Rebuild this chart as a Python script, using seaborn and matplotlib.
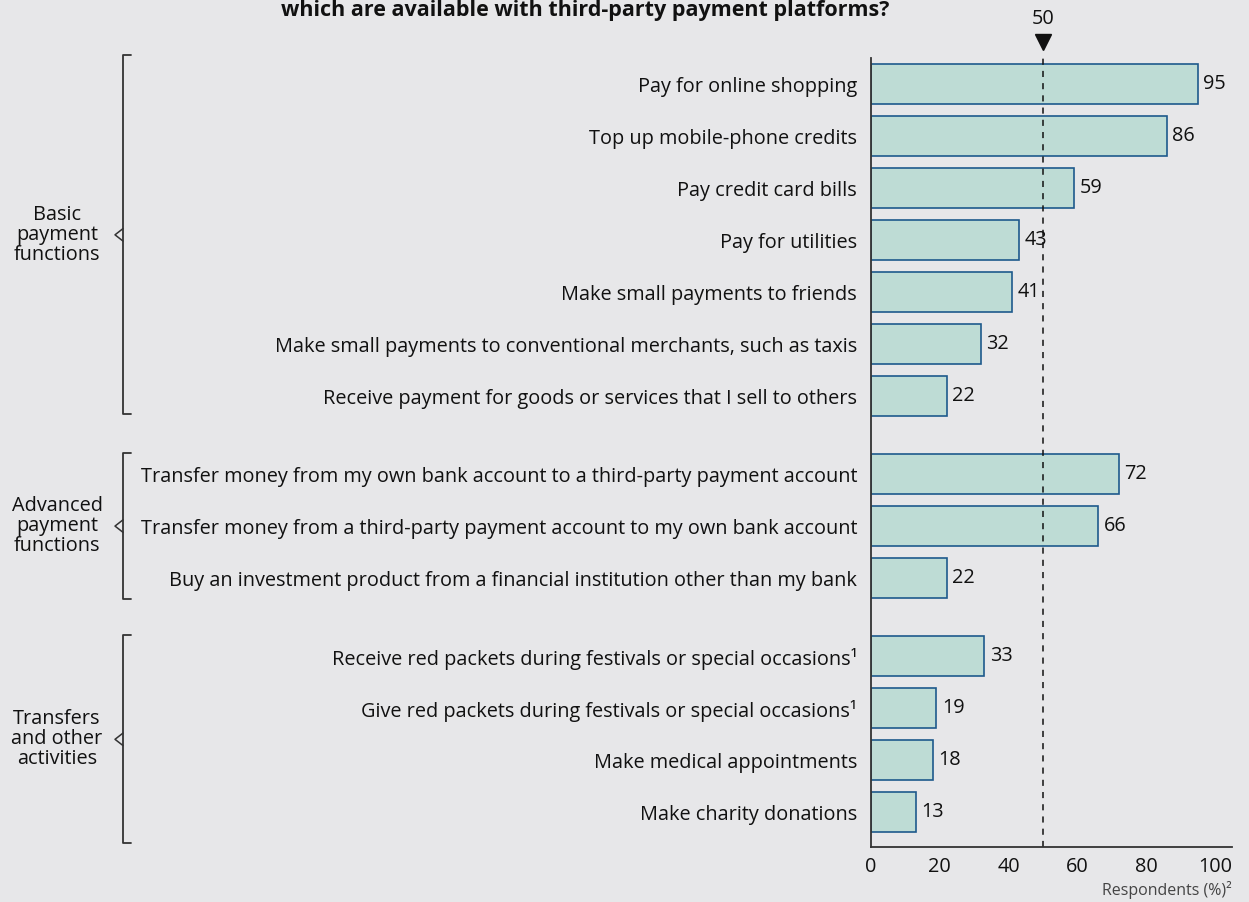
import matplotlib
matplotlib.use("Agg")
import matplotlib.pyplot as plt
import matplotlib.transforms as mtransforms
import seaborn as sns
import pandas as pd

# Survey items, grouped by kind of activity
basic_items = [
    "Pay for online shopping",
    "Top up mobile-phone credits",
    "Pay credit card bills",
    "Pay for utilities",
    "Make small payments to friends",
    "Make small payments to conventional merchants, such as taxis",
    "Receive payment for goods or services that I sell to others",
]
basic_values = [95, 86, 59, 43, 41, 32, 22]

advanced_items = [
    "Transfer money from my own bank account to a third-party payment account",
    "Transfer money from a third-party payment account to my own bank account",
    "Buy an investment product from a financial institution other than my bank",
]
advanced_values = [72, 66, 22]

other_items = [
    "Receive red packets during festivals or special occasions\u00b9",
    "Give red packets during festivals or special occasions\u00b9",
    "Make medical appointments",
    "Make charity donations",
]
other_values = [33, 19, 18, 13]

group_names = ["Basic\npayment\nfunctions", "Advanced\npayment\nfunctions", "Transfers\nand other\nactivities"]
x_ticks = [0, 20, 40, 60, 80, 100]
reference_value = 50

BG = "#e7e7e9"
FILL = "#bedcd5"
EDGE = "#1e5a8c"
TEXT = "#111111"
FS = 14.3

sns.set_theme(style="white")
plt.rcParams["font.family"] = ["Open Sans", "DejaVu Sans"]

# Row positions: half-row gap between groups
groups = [basic_items, advanced_items, other_items]
group_vals = [basic_values, advanced_values, other_values]
rows, positions, values, spans = [], [], [], []
pos = 0.0
for items, vals in zip(groups, group_vals):
    start = pos
    for it, v in zip(items, vals):
        rows.append(it)
        positions.append(pos)
        values.append(v)
        pos += 1.0
    spans.append((start, pos - 1.0))
    pos += 0.5

df = pd.DataFrame({"item": rows, "pos": positions, "value": values})

fig = plt.figure(figsize=(12.49, 9.02), dpi=100, facecolor=BG)
ax = fig.add_axes([0.6974, 0.0610, 0.2890, 0.8747])
ax.set_facecolor(BG)

sns.barplot(data=df, x="value", y="pos", orient="h", native_scale=True,
            color=FILL, edgecolor=EDGE, linewidth=1.2, width=0.77,
            saturation=1, ax=ax)

ax.set_xlim(0, 105)
ax.set_ylim(14.67, -0.5)
ax.set_yticks(positions)
ax.set_yticklabels(rows, fontsize=FS, color=TEXT)
ax.set_xticks(x_ticks)
ax.set_xticklabels([str(t) for t in x_ticks], fontsize=FS, color=TEXT)
ax.tick_params(axis="both", length=0, pad=7)
ax.tick_params(axis="y", pad=10)
ax.set_xlabel("")
ax.set_ylabel("")
for side in ["top", "right"]:
    ax.spines[side].set_visible(False)
for side in ["left", "bottom"]:
    ax.spines[side].set_color("#333333")
    ax.spines[side].set_linewidth(1.3)

# Value labels
for p, v in zip(positions, values):
    ax.text(v + 1.6, p, str(v), va="center", ha="left", fontsize=FS, color=TEXT)

# 50% reference line with marker
ax.axvline(reference_value, ymin=0, ymax=1, color="#111111", linestyle=(0, (4, 4)), linewidth=1.1)
ax.plot([reference_value], [-0.81], marker="v", markersize=11, color="#111111", clip_on=False)
ax.text(reference_value, -1.25, str(reference_value), ha="center", va="center", fontsize=FS, color=TEXT)

# Axis caption
fig.text(1232 / 1249, 1 - 890 / 902, "Respondents (%)\u00b2", ha="right", va="center",
         fontsize=11.5, color="#444444")

# Title line
fig.text(585 / 1249, 1 - 16 / 902, "which are available with third-party payment platforms?",
         ha="center", va="baseline", fontsize=15.5, fontweight="bold", color=TEXT)

# Group brackets on the left
blend = mtransforms.blended_transform_factory(fig.transFigure, ax.transData)
bx = 123 / 1249
tick = 8 / 1249
notch = 8 / 1249
pads = [(-0.55, 0.35), (-0.4, 0.4), (-0.4, 0.6)]
for (a, b), name, (pa, pb) in zip(spans, group_names, pads):
    top, bot = a + pa, b + pb
    mid = (top + bot) / 2
    ax.plot([bx + tick, bx, bx, bx + tick], [top, top, bot, bot], transform=blend,
            color="#333333", linewidth=1.3, clip_on=False)
    ax.plot([bx, bx - notch, bx], [mid - 0.12, mid, mid + 0.12], transform=blend,
            color="#333333", linewidth=1.1, clip_on=False)
    ax.text(57 / 1249, mid, name, transform=blend, ha="center", va="center",
            fontsize=FS, color=TEXT, linespacing=1.0)

fig.savefig("out.png", dpi=100, facecolor=BG)
